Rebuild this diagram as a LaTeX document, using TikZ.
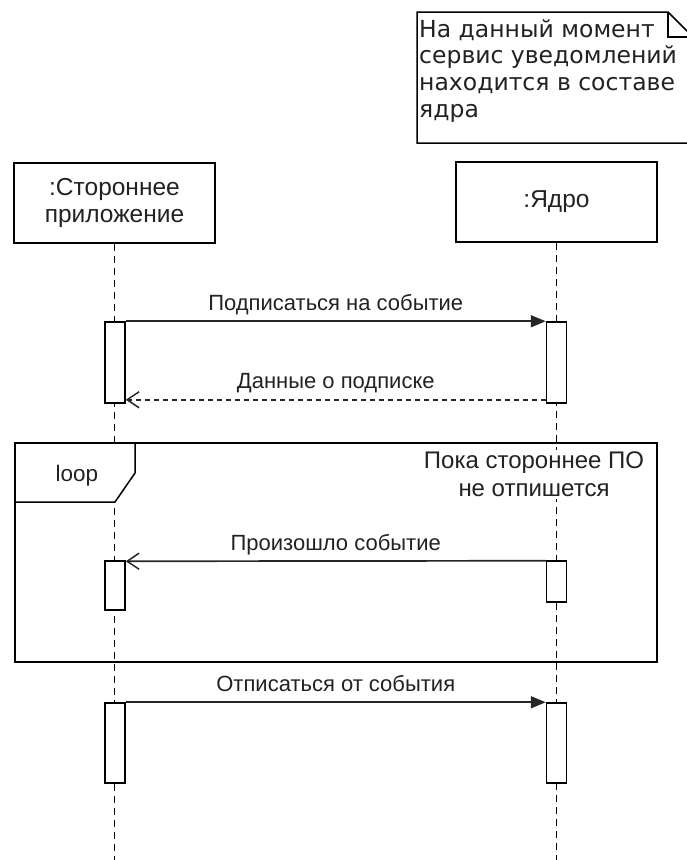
\documentclass[tikz,border=0pt]{standalone}
\usepackage{fontspec}
\setmainfont{Liberation Sans}
\newfontfamily\notefont{DejaVu Sans}
\usetikzlibrary{arrows.meta,calc}
\definecolor{ink}{HTML}{222222}
\begin{document}
\begin{tikzpicture}[x=1pt,y=-1pt,
  headbox/.style={draw=black, line width=1.5pt, fill=white, minimum width=201pt, minimum height=80pt, inner sep=0pt, align=center, text=ink, font=\fontsize{24.5}{27.5}\selectfont},
  actbox/.style={draw=black, line width=1.5pt, fill=white, minimum width=20pt, inner sep=0pt},
  lifeline/.style={line width=1.7pt, dash pattern=on 7pt off 5pt},
  msgcall/.style={line width=1.7pt, draw=black!85, -{Triangle[length=15pt,width=12pt]}},
  msgret/.style={line width=1.7pt, draw=black!85, dash pattern=on 5pt off 4pt, -{Straight Barb[length=12pt,width=16pt,line width=1.5pt]}},
  msgopen/.style={line width=1.7pt, draw=black!85, -{Straight Barb[length=12pt,width=16pt,line width=1.5pt]}},
  msglbl/.style={font=\fontsize{22}{26}\selectfont, text=ink, fill=white, inner sep=1pt, text height=16pt, text depth=5pt},
  framebox/.style={draw=black, line width=1.5pt}
]
\useasboundingbox (0,0) rectangle (686,860);

% headers
\node[headbox] (h1) at (114.5,203) {:Стороннее\\приложение};
\node[headbox] (h2) at (556.5,202) {:Ядро};
\coordinate (e1) at (114.5,860);
\coordinate (e2) at (556.5,860);
\draw[lifeline] (h1.south) -- (e1);
\draw[lifeline] (h2.south) -- (e2);

% loop frame
\coordinate (f1) at (15,443);
\coordinate (f2) at (657,662);
\draw[framebox] (f1) rectangle (f2);
\draw[framebox, fill=white] (15,443) -- (135,443) -- (135,473) -- (115,502) -- (15,502) -- cycle;
\node[font=\fontsize{22.5}{26}\selectfont, text=ink] (looplbl) at (77,476) {loop};
\node[font=\fontsize{24}{28}\selectfont, text=ink, fill=white, align=center, inner sep=2pt] (cond) at (534,474) {Пока стороннее ПО\\не отпишется};

% activations
\node[actbox, minimum height=81pt] (a1) at (115,362.5) {};
\node[actbox, minimum height=81pt] (a2) at (556.5,362.5) {};
\node[actbox, minimum height=49pt] (a3) at (115,585.5) {};
\node[actbox, minimum height=41pt] (a4) at (556.5,581.5) {};
\node[actbox, minimum height=80pt] (a5) at (115,743) {};
\node[actbox, minimum height=80pt] (a6) at (556.5,743) {};

% messages
\draw[msgcall] (a1.north east) -- node[msglbl, midway, above=4pt] {Подписаться на событие} (a2.north west);
\draw[msgret] ($(a2.south west)+(0,-4)$) -- node[msglbl, midway, above=4pt] {Данные о подписке} ($(a1.south east)+(0,-4)$);
\draw[msgopen] ($(a4.north west)+(0,0.5)$) -- node[msglbl, midway, above=4pt] {Произошло событие} ($(a3.north east)+(0,1)$);
\draw[msgcall] (a5.north east) -- node[msglbl, midway, above=4pt] {Отписаться от события} (a6.north west);

% note
\draw[framebox, fill=white] (417,12) -- (668,12) -- (693,37) -- (693,143) -- (417,143) -- cycle;
\draw[framebox] (668,12) -- (668,37) -- (693,37);
\node[anchor=north west, align=left, inner sep=0pt, text=ink, font=\notefont\fontsize{23.5}{26.7}\selectfont] (note) at (419,19) {\rule{0pt}{18pt}На данный момент\\сервис уведомлений\\находится в составе\\ядра};
\end{tikzpicture}
\end{document}
